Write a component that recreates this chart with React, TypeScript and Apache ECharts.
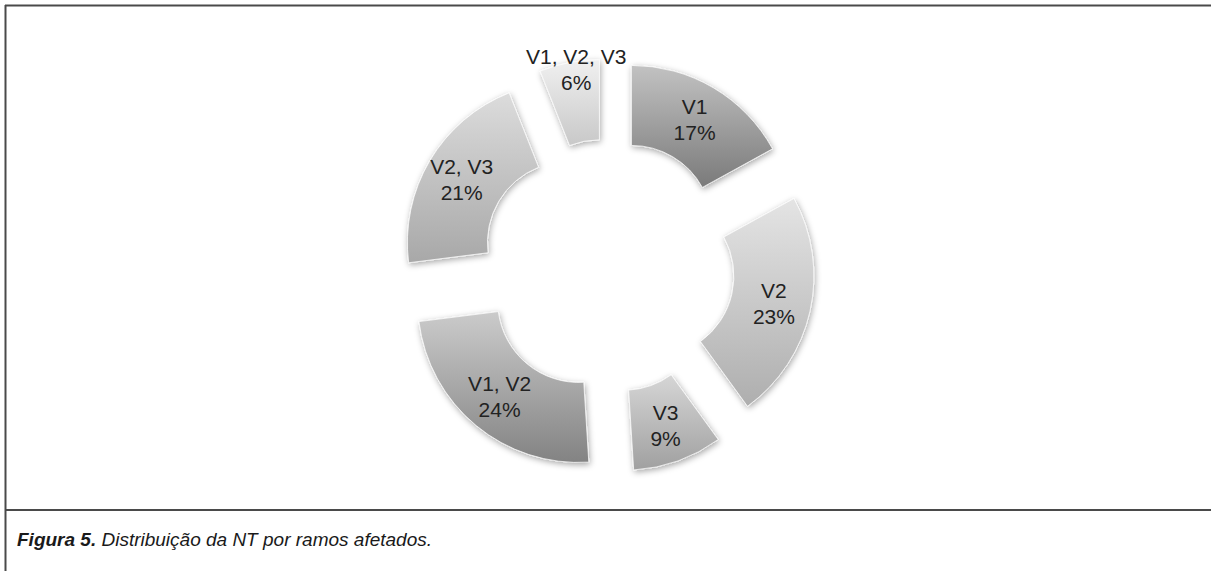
import React, { useEffect, useRef } from "react";
import * as echarts from "echarts";

// Share of NT cases by affected trigeminal branch, clockwise from 12 o'clock
const categories = ["V1", "V2", "V3", "V1, V2", "V2, V3", "V1, V2, V3"];
const percentages = [17, 23, 9, 24, 21, 6];

// Gray shades per slice: top and bottom stops of a vertical gradient
const topShades = ["#c2c2c2", "#e4e4e4", "#d6d6d6", "#cbcbcb", "#dcdcdc", "#f0f0f0"];
const bottomShades = ["#7a7a7a", "#aeaeae", "#a0a0a0", "#838383", "#a8a8a8", "#c8c8c8"];

const captionBold = "Figura 5.";
const captionText = " Distribuição da NT por ramos afetados.";

const FONT = "Liberation Sans, Arial, sans-serif";

export default function App() {
  const ref = useRef<HTMLDivElement>(null);

  useEffect(() => {
    if (!ref.current) return;
    const chart = echarts.init(ref.current, null, { renderer: "svg" });

    const data = categories.map((name, i) => ({
      name,
      value: percentages[i],
      selected: true,
      itemStyle: {
        color: new echarts.graphic.LinearGradient(0, 0, 0, 1, [
          { offset: 0, color: topShades[i] },
          { offset: 1, color: bottomShades[i] },
        ]),
      },
    }));

    chart.setOption({
      animation: false,
      backgroundColor: "#ffffff",
      graphic: [
        { type: "line", shape: { x1: 5.5, y1: 5, x2: 5.5, y2: 571 }, style: { stroke: "#4a4a4a", lineWidth: 2 } },
        { type: "line", shape: { x1: 5, y1: 5.5, x2: 1211, y2: 5.5 }, style: { stroke: "#4a4a4a", lineWidth: 2 } },
        { type: "line", shape: { x1: 5, y1: 510, x2: 1211, y2: 510 }, style: { stroke: "#4a4a4a", lineWidth: 2 } },
        {
          type: "text",
          left: 17,
          top: 530,
          style: {
            text: `{b|${captionBold}}{i|${captionText}}`,
            rich: {
              b: { fontFamily: FONT, fontSize: 19, fontStyle: "italic", fontWeight: "bold", fill: "#1a1a1a" },
              i: { fontFamily: FONT, fontSize: 19, fontStyle: "italic", fill: "#1a1a1a" },
            },
          },
        },
      ],
      series: [
        {
          type: "pie",
          center: [608, 266],
          radius: [81, 161],
          startAngle: 90,
          clockwise: true,
          selectedMode: "multiple",
          selectedOffset: 46,
          avoidLabelOverlap: false,
          emphasis: { disabled: true },
          itemStyle: {
            borderColor: "rgba(255,255,255,0.7)",
            borderWidth: 1,
            shadowBlur: 6,
            shadowOffsetX: 1,
            shadowOffsetY: 2,
            shadowColor: "rgba(0,0,0,0.35)",
          },
          label: {
            show: true,
            position: "inside",
            // the narrow top slice carries its label raised above the ring
            formatter: (p: any) =>
              p.name === "V1, V2, V3"
                ? `{t|${p.name}}\n{t|${p.value}%}\n{g| }`
                : `{t|${p.name}}\n{t|${p.value}%}`,
            rich: {
              t: { fontFamily: FONT, fontSize: 21, lineHeight: 26, color: "#222222" },
              g: { fontSize: 10, lineHeight: 60 },
            },
          },
          labelLine: { show: false },
          data,
        },
      ],
    });

    return () => chart.dispose();
  }, []);

  return (
    <div
      ref={ref}
      style={{ position: "absolute", left: 0, top: 0, width: 1211, height: 571 }}
    />
  );
}
